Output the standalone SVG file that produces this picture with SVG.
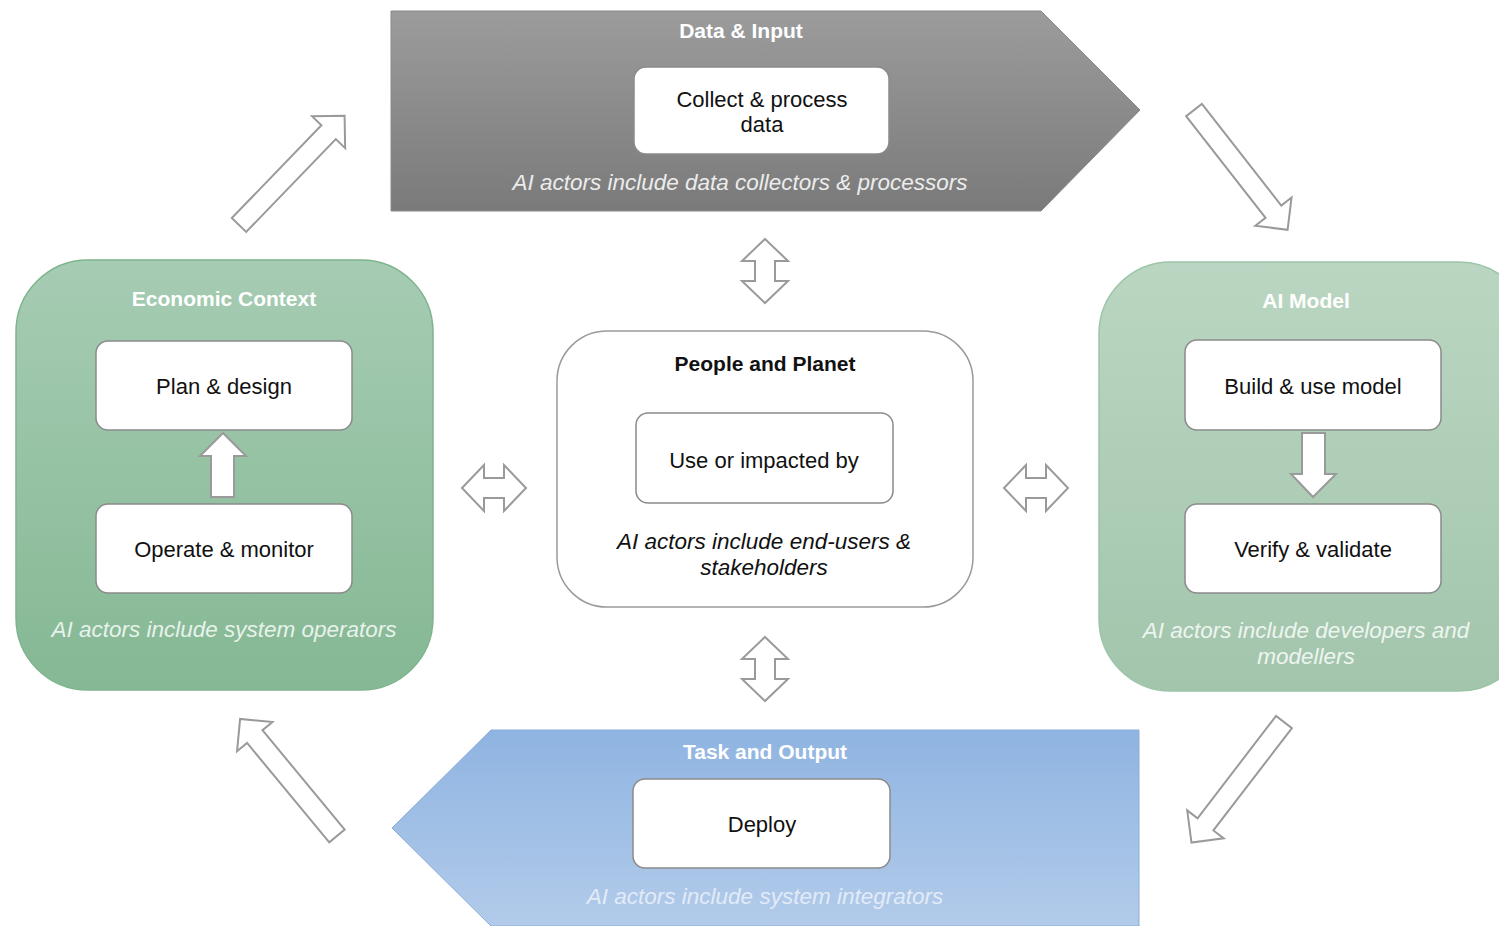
<svg xmlns="http://www.w3.org/2000/svg" width="1499" height="926" viewBox="0 0 1499 926">
<defs>
<linearGradient id="gGray" x1="0" y1="0" x2="0" y2="1"><stop offset="0" stop-color="#9c9c9c"/><stop offset="1" stop-color="#7a7a7a"/></linearGradient>
<linearGradient id="gGreen" x1="0" y1="0" x2="0" y2="1"><stop offset="0" stop-color="#a6ccb3"/><stop offset="1" stop-color="#85b894"/></linearGradient>
<linearGradient id="gGreen2" x1="0" y1="0" x2="0" y2="1"><stop offset="0" stop-color="#bad6c2"/><stop offset="1" stop-color="#a2c5ac"/></linearGradient>
<linearGradient id="gBlue" x1="0" y1="0" x2="0" y2="1"><stop offset="0" stop-color="#8fb4e1"/><stop offset="1" stop-color="#b2cbea"/></linearGradient>
<path id="diag" d="M0,-10 H129 V-23 L152,0 L129,23 V10 H0 Z"/>
<path id="dbl" d="M0,0 L22,-23 V-10 H42 V-23 L64,0 L42,23 V10 H22 V23 Z"/>
<style>
text{font-family:"Liberation Sans",Arial,sans-serif;text-anchor:middle}
.ttl{font-weight:bold;font-size:21px;fill:#ffffff}
.ttlk{font-weight:bold;font-size:21px;fill:#111111}
.lbl{font-size:22px;fill:#111111}
.it{font-style:italic;font-size:22.5px}
.inner{fill:#ffffff;stroke:#8a8a8a;stroke-width:1.5}
.arr{fill:#ffffff;stroke:#9a9a9a;stroke-width:2;stroke-linejoin:miter}
</style>
</defs>

<g id="data-input">
<polygon points="391,11 1041,11 1140,110 1041,211 391,211" fill="url(#gGray)" stroke="#8a8a8a" stroke-width="1"/>
<text class="ttl" x="741" y="38">Data &amp; Input</text>
<rect class="inner" x="634" y="67" width="255" height="87" rx="12"/>
<text class="lbl" x="762" y="107">Collect &amp; process</text>
<text class="lbl" x="762" y="132">data</text>
<text class="it" x="740" y="190" fill="#ececec">AI actors include data collectors &amp; processors</text>
</g>

<g id="economic-context">
<rect x="16" y="260" width="417" height="430" rx="72" fill="url(#gGreen)" stroke="#7db48c" stroke-width="1.5"/>
<text class="ttl" x="224" y="306">Economic Context</text>
<rect class="inner" x="96" y="341" width="256" height="89" rx="12"/>
<text class="lbl" x="224" y="394">Plan &amp; design</text>
<rect class="inner" x="96" y="504" width="256" height="89" rx="12"/>
<text class="lbl" x="224" y="557">Operate &amp; monitor</text>
<path class="arr" d="M211,497 V456 H200 L223,433 L246,456 H234 V497 Z"/>
<text class="it" x="224" y="637" fill="#e8f2eb">AI actors include system operators</text>
</g>

<g id="ai-model">
<rect x="1099" y="262" width="432" height="429" rx="72" fill="url(#gGreen2)" stroke="#9cc4a7" stroke-width="1.5"/>
<text class="ttl" x="1306" y="308">AI Model</text>
<rect class="inner" x="1185" y="340" width="256" height="90" rx="12"/>
<text class="lbl" x="1313" y="394">Build &amp; use model</text>
<rect class="inner" x="1185" y="504" width="256" height="89" rx="12"/>
<text class="lbl" x="1313" y="557">Verify &amp; validate</text>
<path class="arr" d="M1302,433 V474 H1291 L1313,497 L1336,474 H1325 V433 Z"/>
<text class="it" x="1306" y="638" fill="#eef5f0">AI actors include developers and</text>
<text class="it" x="1306" y="664" fill="#eef5f0">modellers</text>
</g>

<g id="people-planet">
<rect x="557" y="331" width="416" height="276" rx="50" fill="#ffffff" stroke="#9a9a9a" stroke-width="1.5"/>
<text class="ttlk" x="765" y="371">People and Planet</text>
<rect class="inner" x="636" y="413" width="257" height="90" rx="12"/>
<text class="lbl" x="764" y="468">Use or impacted by</text>
<text class="it" x="764" y="549" fill="#111111">AI actors include end-users &amp;</text>
<text class="it" x="764" y="575" fill="#111111">stakeholders</text>
</g>

<g id="task-output">
<polygon points="392,828 491,730 1139,730 1139,926 491,926" fill="url(#gBlue)" stroke="#8aaed8" stroke-width="1"/>
<text class="ttl" x="765" y="759">Task and Output</text>
<rect class="inner" x="633" y="779" width="257" height="89" rx="12"/>
<text class="lbl" x="762" y="832">Deploy</text>
<text class="it" x="765" y="904" fill="#e2ebf7">AI actors include system integrators</text>
</g>

<g id="connectors">
<use href="#diag" class="arr" transform="translate(239,225) rotate(-46)"/>
<use href="#diag" class="arr" transform="translate(1194,110) rotate(52)"/>
<use href="#diag" class="arr" transform="translate(1284,722) rotate(127.5)"/>
<use href="#diag" class="arr" transform="translate(337,836) rotate(-129.6)"/>
<use href="#dbl" class="arr" transform="translate(765,239) rotate(90)"/>
<use href="#dbl" class="arr" transform="translate(765,637) rotate(90)"/>
<use href="#dbl" class="arr" transform="translate(462,488)"/>
<use href="#dbl" class="arr" transform="translate(1004,488)"/>
</g>
</svg>
